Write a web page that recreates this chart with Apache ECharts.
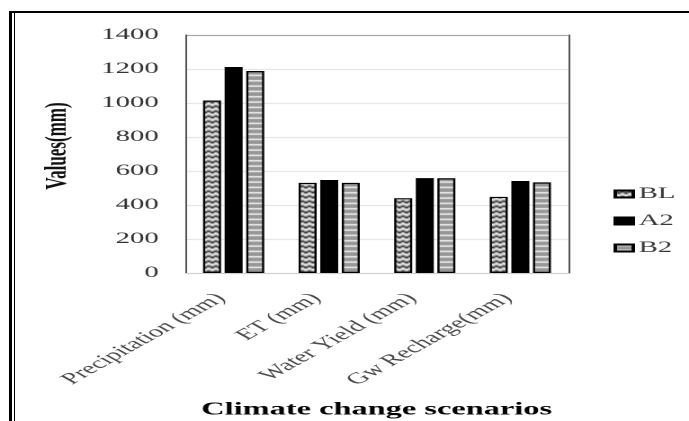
<!DOCTYPE html>
<html>
<head>
<meta charset="utf-8">
<script src="https://cdn.jsdelivr.net/npm/echarts@6/dist/echarts.min.js"></script>
<style>
  html, body { margin: 0; padding: 0; background: #fff; width: 689px; height: 421px; overflow: hidden; }
  /* the chart is laid out narrow and widened, which gives its text the stretched look */
  #chart { position: absolute; left: 0; top: 0; width: 383px; height: 421px;
           transform: scaleX(1.799); transform-origin: 0 0; }
  .rule { position: absolute; background: #000; }
</style>
</head>
<body>
<div id="chart"></div>
<div class="rule" style="left:9px;top:11px;width:3px;height:410px"></div>
<div class="rule" style="left:14px;top:11px;width:1px;height:410px"></div>
<div class="rule" style="left:9px;top:11px;width:680px;height:2px"></div>
<script>
// Water balance components under each climate change scenario (mm)
const categories = ['Precipitation (mm)', 'ET (mm)', 'Water Yield (mm)', 'Gw Recharge(mm)'];
const scenarioNames = ['BL', 'A2', 'B2'];
const blValues = [1015, 530, 440, 448];
const a2Values = [1212, 547, 558, 541];
const b2Values = [1188, 530, 557, 533];
const axisMin = 0;
const axisMax = 1400;
const axisStep = 200;

const SERIF = '"Liberation Serif", "DejaVu Serif", serif';

// zig-zag fill used for the baseline bars
function zigzagTile() {
  const c = document.createElement('canvas');
  c.width = 4; c.height = 5;
  const g = c.getContext('2d');
  g.fillStyle = '#d0d0d0';
  g.fillRect(0, 0, 4, 5);
  g.strokeStyle = '#2a2a2a';
  g.lineWidth = 1.2;
  g.beginPath();
  g.moveTo(0, 0.6); g.lineTo(2, 3.2); g.lineTo(4, 0.6);
  g.stroke();
  g.strokeStyle = '#ffffff';
  g.lineWidth = 0.8;
  g.beginPath();
  g.moveTo(0, 2.6); g.lineTo(2, 5); g.lineTo(4, 2.6);
  g.stroke();
  return c;
}

// horizontal stripe fill used for B2
function stripeTile() {
  const c = document.createElement('canvas');
  c.width = 4; c.height = 16;
  const g = c.getContext('2d');
  g.fillStyle = '#969696';
  g.fillRect(0, 0, 4, 16);
  g.fillStyle = '#f4f4f4';
  for (let i = 0; i < 3; i++) g.fillRect(0, i * 16 / 3, 4, 1.5);
  return c;
}

const fills = [
  { image: zigzagTile(), repeat: 'repeat' },
  '#000000',
  { image: stripeTile(), repeat: 'repeat' }
];
const valueSets = [blValues, a2Values, b2Values];

const chart = echarts.init(document.getElementById('chart'), null, { devicePixelRatio: 2 });

const gridColors = ['#d4d4d4', '#e6e6e6', '#e6e6e6', '#e6e6e6', '#e6e6e6', '#e6e6e6', '#e6e6e6', '#a8a8a8'];

chart.setOption({
  animation: false,
  backgroundColor: '#ffffff',
  grid: { left: 103.3, right: 67.2, top: 35, bottom: 148, containLabel: false },
  legend: {
    orient: 'vertical',
    left: 336,
    top: 181,
    icon: 'rect',
    itemWidth: 10,
    itemHeight: 7,
    itemGap: 11,
    data: scenarioNames,
    textStyle: { fontFamily: SERIF, fontSize: 16, color: '#3a3a3a', padding: [0, 0, 0, -2] }
  },
  xAxis: {
    type: 'category',
    data: categories,
    axisLine: { show: true, lineStyle: { color: '#d0d0d0', width: 1 } },
    axisTick: { show: false },
    axisLabel: {
      rotate: 45, margin: 16, interval: 0,
      padding: [0, 10, 0, 0],
      fontFamily: SERIF, fontSize: 16, color: '#4a4a4a'
    }
  },
  yAxis: [
    {
      type: 'value',
      min: axisMin, max: axisMax, interval: axisStep,
      axisLine: { show: true, lineStyle: { color: '#555555', width: 1 } },
      axisTick: { show: false },
      splitLine: { show: true, lineStyle: { color: gridColors, width: 1.3 } },
      axisLabel: {
        margin: 15, fontFamily: SERIF, fontSize: 16, color: '#333333',
        formatter: (v) => String(v)
      }
    },
    {
      type: 'value',
      position: 'right',
      min: axisMin, max: axisMax, interval: axisStep,
      axisLine: { show: true, lineStyle: { color: '#555555', width: 1 } },
      axisTick: { show: false },
      splitLine: { show: false },
      axisLabel: { show: false }
    }
  ],
  series: scenarioNames.map((name, i) => ({
    name: name,
    type: 'bar',
    yAxisIndex: 0,
    data: valueSets[i],
    barWidth: 10,
    barGap: '20%',
    itemStyle: { color: fills[i], borderColor: '#000000', borderWidth: 1.2 }
  })),
  graphic: [
    {
      type: 'text',
      x: 32, y: 146,
      rotation: Math.PI / 2,
      style: {
        text: 'Values(mm)',
        font: 'bold 17px ' + SERIF,
        fill: '#111111',
        align: 'center',
        verticalAlign: 'middle'
      }
    },
    {
      type: 'text',
      x: 209.4, y: 410,
      style: {
        text: 'Climate change scenarios',
        font: 'bold 18px ' + SERIF,
        fill: '#000000',
        align: 'center',
        verticalAlign: 'middle'
      }
    }
  ]
});
</script>
</body>
</html>
